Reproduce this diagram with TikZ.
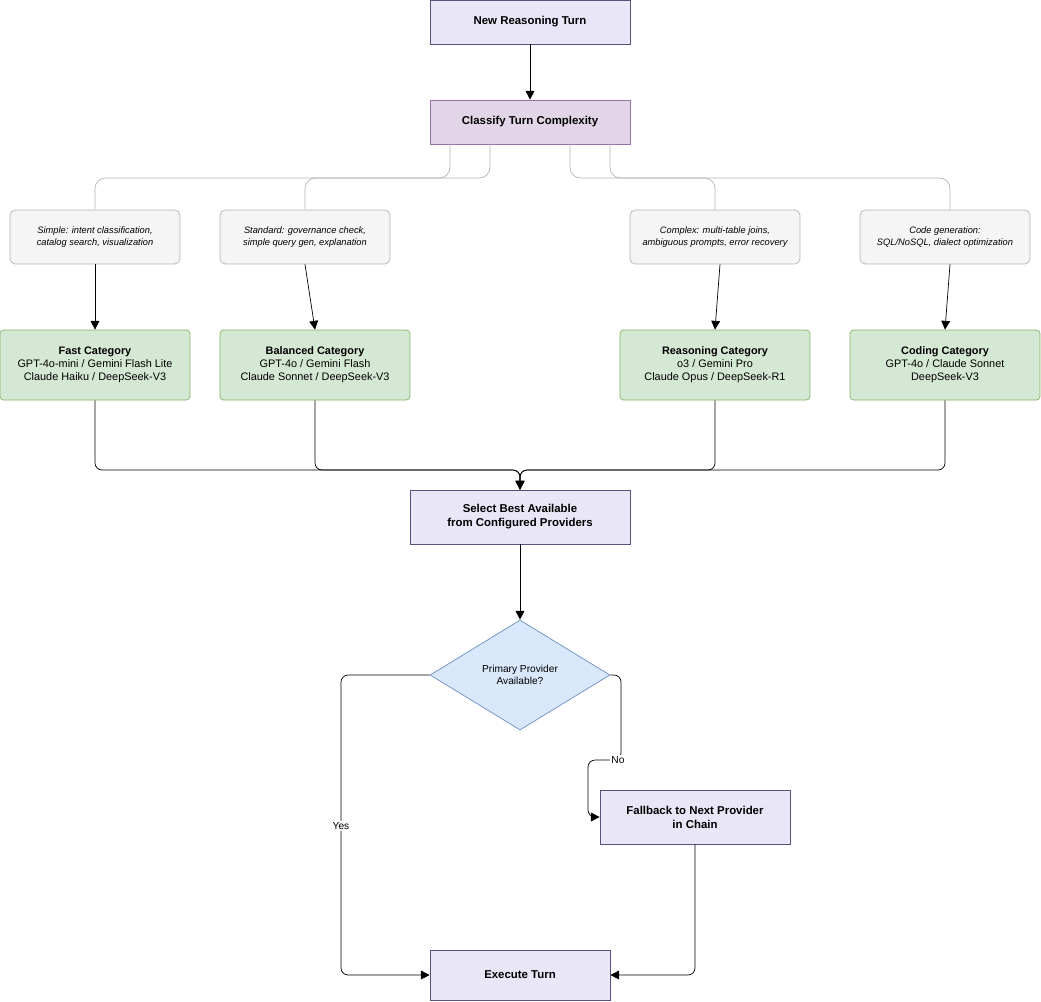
\documentclass[tikz,border=0pt]{standalone}
\usepackage{fontspec}
\setmainfont{Liberation Sans}
\usetikzlibrary{shapes.geometric,arrows.meta}
\definecolor{lavfill}{HTML}{E8E6F7}
\definecolor{lavdraw}{HTML}{56517E}
\definecolor{purfill}{HTML}{E1D5E7}
\definecolor{purdraw}{HTML}{9673A6}
\definecolor{grnfill}{HTML}{D5E8D4}
\definecolor{grndraw}{HTML}{82B366}
\definecolor{notefill}{HTML}{F5F5F5}
\definecolor{notedraw}{HTML}{B3B3B3}
\definecolor{blufill}{HTML}{DAE8FC}
\definecolor{bludraw}{HTML}{6C8EBF}
\tikzset{
  proc/.style={draw=lavdraw,fill=lavfill,minimum height=0.88cm,align=center,font=\fontsize{6.5}{8}\selectfont\bfseries},
  note/.style={draw=notedraw,fill=notefill,rounded corners=3pt,minimum width=3.4cm,minimum height=1.08cm,align=center,font=\fontsize{5.3}{7}\selectfont\itshape},
  model/.style={draw=grndraw,fill=grnfill,rounded corners=2pt,minimum width=3.8cm,minimum height=1.4cm,align=center,font=\fontsize{6.2}{7.4}\selectfont},
  flow/.style={-{Triangle[length=5pt,width=5pt]},rounded corners=4pt},
  link/.style={draw=notedraw,rounded corners=6pt}
}
\begin{document}
\begin{tikzpicture}[x=0.02cm,y=-0.02cm]
    \useasboundingbox (0,0) rectangle (1041,1001);
    \node[proc,minimum width=4cm] (start) at (530,22) {New Reasoning Turn};
    \node[proc,minimum width=4cm,draw=purdraw,fill=purfill] (classify) at (530,122) {Classify Turn Complexity};

    \node[note] (simple) at (95,237) {Simple: intent classification,\\catalog search, visualization};
    \node[note] (standard) at (305,237) {Standard: governance check,\\simple query gen, explanation};
    \node[note] (complex) at (715,237) {Complex: multi-table joins,\\ambiguous prompts, error recovery};
    \node[note] (codegen) at (945,237) {Code generation:\\SQL/NoSQL, dialect optimization};

    \node[model] (fast) at (95,365) {\textbf{Fast Category}\\GPT-4o-mini / Gemini Flash Lite\\Claude Haiku / DeepSeek-V3};
    \node[model] (balanced) at (315,365) {\textbf{Balanced Category}\\GPT-4o / Gemini Flash\\Claude Sonnet / DeepSeek-V3};
    \node[model] (reasoning) at (715,365) {\textbf{Reasoning Category}\\o3 / Gemini Pro\\Claude Opus / DeepSeek-R1};
    \node[model] (coding) at (945,365) {\textbf{Coding Category}\\GPT-4o / Claude Sonnet\\DeepSeek-V3};

    \node[proc,minimum width=4.4cm,minimum height=1.08cm] (select) at (520,517) {Select Best Available\\from Configured Providers};
    \node[diamond,draw=bludraw,fill=blufill,minimum width=3.6cm,minimum height=2.2cm,inner sep=0pt,aspect=1.64,
          align=center,font=\fontsize{5.8}{7.2}\selectfont] (primary) at (520,675) {Primary Provider\\Available?};
    \node[proc,minimum width=3.8cm,minimum height=1.08cm] (fallback) at (695,817) {Fallback to Next Provider\\in Chain};
    \node[proc,minimum width=3.6cm,minimum height=1cm] (execute) at (520,975) {Execute Turn};

    % complexity split
    \draw[link] (classify.south -| 450,0) -- (450,178) -- (95,178) -- (simple.north);
    \draw[link] (classify.south -| 490,0) -- (490,178) -- (305,178) -- (standard.north);
    \draw[link] (classify.south -| 570,0) -- (570,178) -- (715,178) -- (complex.north);
    \draw[link] (classify.south -| 610,0) -- (610,178) -- (950,178) -- (codegen.north -| 950,0);

    \draw[flow] (start) -- (classify);
    \draw[flow] (simple) -- (fast);
    \draw[flow] (standard.south) -- (balanced.north);
    \draw[flow] (complex.south -| 720,0) -- (reasoning.north);
    \draw[flow] (codegen.south -| 950,0) -- (coding.north);

    \foreach \src in {fast,balanced,reasoning,coding}
        \draw[flow] (\src.south) |- (520,470) -- (select.north);

    \draw[flow] (select) -- (primary);
    \draw[flow] (primary.west) -- (341,675) -- (341,975) -- (execute.west);
    \node[fill=white,inner sep=1pt,font=\fontsize{5.8}{7}\selectfont] (yeslbl) at (341,826) {Yes};
    \draw[flow] (primary.east) -- (621,675) -- (621,760) -- (588,760) -- (588,817) -- (fallback.west);
    \node[fill=white,inner sep=1pt,font=\fontsize{5.8}{7}\selectfont] (nolbl) at (618,760) {No};
    \draw[flow] (fallback.south) |- (execute.east);
\end{tikzpicture}
\end{document}
